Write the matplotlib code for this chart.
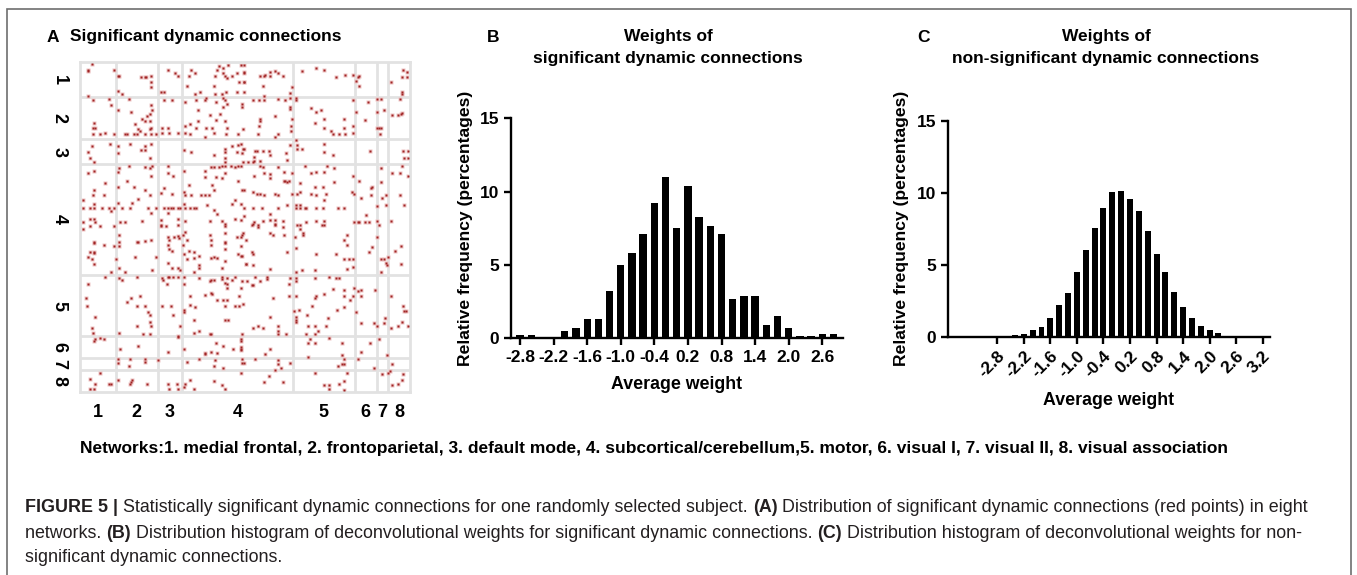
import matplotlib
matplotlib.use("Agg")
import matplotlib.pyplot as plt
from matplotlib.patches import Rectangle

plt.rcParams['font.family'] = ['Liberation Sans', 'DejaVu Sans']

# network boundaries (node index) and labels for the 268-node matrix
net_edges = [0, 29, 63, 83, 173, 223, 241, 250, 268]
net_labels = ['1', '2', '3', '4', '5', '6', '7', '8']

# significant dynamic connections, (column node, row node)
sig_conn = [
    (9, 1), (6, 6), (6, 7), (27, 6), (6, 27), (30, 11), (31, 11), (49, 12), (52, 12), (53, 12),
    (57, 11), (57, 16), (57, 20), (30, 23), (34, 26), (71, 6), (77, 9), (68, 24), (65, 24), (79, 11),
    (90, 6), (93, 9), (112, 3), (111, 6), (116, 5), (116, 9), (109, 11), (117, 11), (119, 13), (120, 2),
    (123, 11), (127, 9), (130, 2), (133, 2), (133, 9), (133, 16), (129, 16), (108, 19), (118, 24), (127, 24),
    (133, 24), (86, 19), (93, 26), (97, 24), (109, 26), (115, 26), (88, 11),
    (10, 31), (23, 30), (25, 35), (11, 49), (10, 53), (12, 53), (10, 58), (16, 58), (20, 57), (27, 58),
    (30, 39), (39, 30), (41, 40), (57, 35), (58, 39), (56, 42), (54, 44), (50, 46), (52, 48), (56, 48),
    (44, 50), (47, 54), (48, 56), (56, 54), (57, 53), (57, 58), (52, 58), (46, 58), (43, 58), (38, 58),
    (36, 58), (61, 58), (68, 31), (74, 31), (66, 53), (71, 53), (72, 57), (79, 57), (66, 57),
    (85, 32), (94, 31), (101, 31), (102, 29), (110, 32), (116, 29), (117, 31), (119, 34), (116, 36), (131, 34),
    (131, 36), (95, 39), (105, 43), (113, 42), (110, 47), (95, 48), (85, 52), (89, 50), (94, 53), (102, 53),
    (107, 53), (117, 48), (119, 53), (118, 58), (85, 57), (89, 58), (108, 57), (101, 61), (132, 54), (128, 58),
    (24, 66), (9, 68), (6, 73), (8, 78), (11, 81), (30, 68), (40, 66), (52, 68), (57, 66), (52, 71),
    (49, 71), (56, 78), (30, 74), (84, 71), (90, 73), (108, 75), (117, 70), (117, 73), (117, 78), (117, 81),
    (123, 68), (128, 67), (130, 66), (132, 70), (127, 73), (131, 74),
    (6, 90), (11, 88), (20, 98), (11, 104), (10, 108), (19, 108), (2, 112), (11, 115), (17, 118), (2, 118),
    (8, 118), (11, 118), (27, 118), (23, 118), (25, 121), (11, 127), (8, 127), (12, 130), (2, 130),
    (31, 86), (39, 84), (30, 89), (38, 96), (52, 85), (56, 86), (58, 84), (57, 92), (30, 101), (43, 101),
    (52, 104), (56, 108), (47, 111), (42, 114), (30, 114), (34, 118), (40, 118), (55, 118), (61, 118), (57, 122),
    (32, 130), (36, 130), (50, 129), (71, 84), (71, 90), (75, 92), (68, 102), (65, 106), (74, 107), (68, 118),
    (71, 118), (73, 118), (75, 118), (79, 118), (81, 118), (71, 122), (65, 128), (79, 127), (79, 132), (65, 132),
    (84, 88), (88, 100), (84, 105), (85, 108), (90, 108), (98, 108), (101, 108), (104, 108), (108, 104), (107, 100),
    (101, 88), (106, 85), (108, 85), (112, 85), (115, 84), (117, 84), (122, 84), (125, 85), (128, 84), (130, 84),
    (132, 81), (117, 90), (110, 93), (115, 94), (128, 96), (101, 93), (84, 115), (85, 118), (89, 118), (92, 118),
    (94, 118), (103, 116), (108, 120), (123, 115), (130, 115), (131, 104), (125, 112), (111, 123), (115, 129), (117, 131),
    (125, 127), (130, 128), (105, 129), (85, 129), (133, 104),
    (133, 8), (133, 16), (146, 11), (149, 11), (150, 10), (154, 8), (154, 11), (158, 7), (160, 9), (164, 11),
    (148, 19), (149, 27), (170, 25), (172, 20), (180, 7), (191, 5), (198, 6), (207, 12), (215, 10), (221, 10),
    (225, 12), (226, 11), (224, 15), (226, 19), (262, 6), (265, 8), (265, 12), (261, 12), (252, 16), (261, 24),
    (261, 26),
    (140, 31), (145, 31), (149, 31), (160, 30), (166, 31), (170, 29), (170, 36), (170, 38), (175, 29), (175, 31),
    (172, 46), (171, 52), (171, 56), (158, 44), (146, 46), (146, 48), (145, 52), (144, 58), (160, 58), (158, 61),
    (187, 37), (191, 40), (195, 39), (190, 49), (198, 46), (198, 53), (203, 56), (205, 58), (210, 58), (214, 46),
    (214, 53), (215, 58), (221, 31), (221, 52), (221, 57), (233, 32), (231, 47), (224, 40), (241, 30), (244, 30),
    (241, 40), (246, 39), (241, 53), (242, 53), (244, 53), (243, 58), (259, 30), (253, 43), (258, 43), (260, 42),
    (261, 41),
    (133, 70), (142, 72), (143, 72), (148, 72), (153, 72), (154, 75), (141, 77), (136, 81), (140, 81), (141, 80),
    (146, 80), (148, 85), (167, 74), (168, 79), (170, 67), (175, 63), (176, 67), (176, 70), (180, 70), (198, 66),
    (198, 73), (205, 75), (235, 72), (262, 72), (266, 72), (263, 78), (266, 78), (261, 84),
    (141, 92), (146, 84), (149, 90), (154, 91), (154, 94), (160, 85), (165, 89), (165, 96), (166, 96), (169, 96),
    (168, 97), (178, 98), (172, 90), (182, 84), (187, 90), (191, 89), (198, 89), (200, 84), (206, 86), (206, 97),
    (190, 101), (197, 101), (221, 92), (226, 96), (237, 101), (236, 102), (244, 97), (244, 86), (253, 90), (259, 90),
    (266, 92), (140, 105), (143, 107), (146, 107), (149, 108), (158, 107), (160, 108), (176, 107), (178, 105), (172, 107),
    (187, 107), (191, 108), (199, 107), (220, 105), (222, 107), (228, 110), (236, 108), (248, 108), (245, 110), (259, 108),
    (133, 118), (140, 118), (147, 118), (160, 118), (168, 116), (175, 116), (178, 116), (178, 118), (175, 118), (182, 118),
    (183, 118), (191, 118), (197, 118), (209, 118), (214, 118), (198, 112), (154, 123), (133, 125), (232, 124), (241, 117),
    (248, 116), (263, 116), (141, 130), (144, 132), (140, 131), (148, 129), (154, 128), (158, 128), (158, 131), (164, 129),
    (176, 132), (183, 130), (191, 129), (198, 129), (198, 132), (222, 130), (225, 130), (226, 130), (231, 130), (234, 130),
    (241, 129), (242, 132), (252, 129),
    (2, 135), (8, 133), (16, 133), (27, 133), (11, 146), (11, 147), (19, 148), (27, 149), (11, 154), (11, 155),
    (8, 154), (6, 158), (9, 160), (11, 164), (25, 170), (31, 140), (31, 146), (31, 149), (46, 146), (47, 146),
    (52, 145), (57, 144), (29, 160), (44, 158), (61, 158), (36, 170), (31, 167), (58, 169),
    (65, 133), (69, 133), (71, 142), (72, 144), (76, 142), (79, 141), (80, 143), (83, 140), (71, 148), (72, 152),
    (74, 153), (83, 148), (71, 163), (74, 167), (79, 167), (81, 169), (85, 138), (86, 144), (84, 156), (86, 160),
    (88, 153), (92, 154), (92, 159), (96, 157), (96, 165), (96, 167), (92, 170), (106, 144), (106, 148), (105, 140),
    (106, 159), (108, 158), (111, 159), (117, 133), (117, 139), (117, 146), (117, 147), (117, 152), (117, 161), (115, 167),
    (127, 142), (130, 142), (131, 140), (132, 139), (130, 157), (131, 157), (128, 156), (134, 164), (130, 149),
    (139, 132), (144, 134), (164, 134), (158, 132), (178, 132), (178, 135), (181, 139), (181, 140), (196, 132), (174, 142),
    (154, 139), (156, 140), (165, 140), (134, 144), (175, 151), (168, 154), (139, 154), (140, 156), (191, 156), (207, 156),
    (214, 144), (216, 148), (216, 140), (214, 160), (218, 160), (221, 160), (221, 166), (216, 168), (190, 169), (180, 169),
    (175, 170), (154, 168), (140, 165), (134, 164), (241, 142), (237, 150), (234, 154), (244, 160), (246, 160), (244, 170),
    (248, 163), (249, 165), (250, 158), (255, 153), (260, 149), (260, 164),
    (20, 174), (6, 180), (4, 191), (5, 198), (12, 207), (9, 216), (10, 220), (31, 175), (34, 177), (41, 191),
    (38, 195), (48, 190), (46, 198), (52, 198), (55, 203), (56, 205), (56, 211), (57, 214), (46, 214), (51, 221),
    (56, 221), (31, 220), (46, 174), (66, 175), (67, 177), (70, 180), (71, 174), (66, 198), (72, 174), (75, 174),
    (79, 174), (84, 174), (84, 180), (75, 205), (84, 201), (84, 203), (81, 214), (79, 222), (73, 198),
    (89, 190), (89, 197), (92, 209), (92, 220), (96, 218), (105, 221), (106, 221), (101, 189), (106, 187), (107, 188),
    (105, 178), (106, 177), (108, 177), (115, 176), (115, 174), (119, 175), (117, 179), (119, 180), (119, 183), (123, 177),
    (125, 174), (131, 178), (130, 183), (111, 193), (116, 193), (119, 193), (117, 198), (125, 198), (129, 198), (132, 196),
    (129, 190), (117, 209), (120, 209), (131, 221), (96, 175), (93, 199),
    (135, 178), (139, 181), (140, 181), (142, 174), (146, 178), (151, 174), (151, 176), (170, 175), (169, 180), (169, 190),
    (175, 175), (175, 178), (175, 190), (190, 175), (191, 190), (190, 191), (198, 188), (202, 174), (207, 175), (210, 175),
    (205, 184), (214, 185), (214, 190), (219, 193), (221, 190), (222, 183), (225, 186), (228, 185), (228, 190), (239, 185),
    (214, 199), (208, 201), (201, 208), (188, 198), (184, 205), (177, 201), (175, 207), (175, 211), (175, 209), (156, 191),
    (154, 207), (160, 214), (160, 218), (160, 221), (167, 221), (144, 214), (140, 216), (148, 216), (173, 202), (185, 214),
    (190, 214), (199, 214), (193, 218), (183, 221), (190, 221), (228, 212), (238, 212), (246, 212), (241, 214), (247, 208),
    (252, 190), (252, 216), (258, 214), (262, 198), (263, 202), (264, 202), (261, 211), (266, 214), (224, 203),
    (11, 226), (12, 225), (16, 224), (19, 225), (32, 233), (47, 230), (71, 235), (79, 223), (84, 233), (101, 236),
    (101, 237), (106, 235), (110, 228), (111, 236), (116, 230), (124, 233), (130, 225), (130, 226), (130, 231), (130, 233),
    (130, 234), (186, 225), (185, 228), (190, 228), (202, 224), (212, 228), (228, 235), (235, 228), (242, 225), (154, 233),
    (150, 237), (249, 238), (212, 238), (185, 239),
    (30, 241), (30, 244), (39, 247), (40, 241), (52, 241), (52, 243), (63, 242), (86, 243), (96, 241), (108, 247),
    (109, 242), (116, 248), (131, 241), (131, 244), (142, 241), (160, 242), (160, 245), (163, 248), (170, 244), (214, 241),
    (214, 245), (209, 247), (212, 245), (225, 241), (238, 248), (253, 245), (158, 250), (133, 244),
    (16, 252), (8, 257), (12, 261), (11, 265), (8, 265), (23, 261), (25, 261), (30, 258), (40, 261), (41, 260),
    (42, 258), (54, 261), (71, 261), (72, 265), (79, 265), (78, 261), (85, 261), (84, 264), (89, 258), (92, 265),
    (108, 259), (115, 262), (117, 265), (130, 252), (153, 255), (149, 260), (164, 260), (190, 252), (198, 262), (202, 262),
    (202, 265), (210, 261), (214, 259), (214, 266), (216, 252), (245, 253), (250, 252), (251, 251), (253, 262), (258, 261),
    (262, 253), (261, 258),
]

# histogram of weights, significant connections (panel B)
sig_bins = [-2.8, -2.6, -2.4, -2.2, -2.0, -1.8, -1.6, -1.4, -1.2, -1.0, -0.8, -0.6, -0.4, -0.2, 0.0,
            0.2, 0.4, 0.6, 0.8, 1.0, 1.2, 1.4, 1.6, 1.8, 2.0, 2.2, 2.4, 2.6, 2.8]
sig_freq = [0.2, 0.2, 0, 0, 0.52, 0.73, 1.32, 1.32, 3.23, 5.0, 5.8, 7.11, 9.2, 10.98, 7.5,
            10.39, 8.3, 7.68, 7.11, 2.68, 2.89, 2.89, 0.91, 1.52, 0.73, 0.18, 0.18, 0.32, 0.32]
sig_ticks = ['-2.8', '-2.2', '-1.6', '-1.0', '-0.4', '0.2', '0.8', '1.4', '2.0', '2.6']

# histogram of weights, non-significant connections (panel C)
nonsig_bins = [-2.4, -2.2, -2.0, -1.8, -1.6, -1.4, -1.2, -1.0, -0.8, -0.6, -0.4, -0.2, 0.0,
               0.2, 0.4, 0.6, 0.8, 1.0, 1.2, 1.4, 1.6, 1.8, 2.0, 2.2, 2.4]
nonsig_freq = [0.12, 0.19, 0.46, 0.69, 1.32, 2.2, 3.06, 4.51, 6.02, 7.52, 8.91, 10.07, 10.14,
               9.56, 8.75, 7.31, 5.74, 4.51, 3.10, 2.08, 1.32, 0.74, 0.46, 0.23, 0.07]
nonsig_ticks = ['-2.8', '-2.2', '-1.6', '-1.0', '-0.4', '0.2', '0.8', '1.4', '2.0', '2.6', '3.2']

W, H = 1357, 575
fig = plt.figure(figsize=(W / 100, H / 100), dpi=100)


def px_axes(x0, y0, x1, y1):
    # axes from pixel box (top-left origin)
    return fig.add_axes([x0 / W, 1 - y1 / H, (x1 - x0) / W, (y1 - y0) / H])


# ---- panel A: connection matrix
ax = px_axes(80, 61.7, 410, 391.7)
grid_c = '#e2e2e2'
for e in net_edges[1:-1]:
    ax.axvline(e, color=grid_c, lw=2, zorder=1)
    ax.axhline(e, color=grid_c, lw=2, zorder=1)
cols = [c + 0.5 for c, r in sig_conn]
rows = [r + 0.5 for c, r in sig_conn]
ax.plot(cols, rows, 's', ms=3.0, color='#eec4c4', mec='none', zorder=2)
ax.plot(cols, rows, 's', ms=1.6, color='#a02424', mec='none', zorder=3)
ax.set_xlim(0, 268)
ax.set_ylim(268, 0)
centers = [(net_edges[i] + net_edges[i + 1]) / 2 for i in range(8)]
ax.set_xticks(centers)
ax.set_xticklabels(net_labels, fontsize=13, fontweight='bold')
ax.set_yticks(centers)
ax.set_yticklabels(net_labels, fontsize=13, fontweight='bold', rotation=-90, va='center')
ax.tick_params(length=0, pad=9)
for s in ax.spines.values():
    s.set_color(grid_c)
    s.set_linewidth(2)

fig.text(47 / W, 1 - 37 / H, 'A', fontsize=12.5, fontweight='bold', va='center')
fig.text(70 / W, 1 - 37 / H, 'Significant dynamic connections', fontsize=12.5,
         fontweight='bold', va='center')


def style_hist(a):
    for side in ['top', 'right']:
        a.spines[side].set_visible(False)
    for side in ['left', 'bottom']:
        a.spines[side].set_linewidth(1.7)
    a.tick_params(width=1.7, length=5, labelsize=12.5)
    a.set_ylim(0, 15)
    a.set_yticks([0, 5, 10, 15])
    a.set_yticklabels(['0', '5', '10', '15'], fontweight='bold')
    a.set_ylabel('Relative frequency (percentages)', fontsize=12.6, fontweight='bold', labelpad=5)
    a.set_xlabel('Average weight', fontsize=12.8, fontweight='bold', labelpad=8)


# ---- panel B
axb = px_axes(511, 118.3, 843, 338.3)
axb.bar(sig_bins, sig_freq, width=0.13, color='black')
axb.set_xlim(-2.96, 2.97)
axb.set_xticks([float(t) for t in sig_ticks])
axb.set_xticklabels(sig_ticks, fontweight='bold')
style_hist(axb)
fig.text(487 / W, 1 - 37 / H, 'B', fontsize=12.5, fontweight='bold', va='center')
fig.text(668 / W, 1 - 37 / H, 'Weights of', fontsize=12.5, fontweight='bold', va='center', ha='center')
fig.text(668 / W, 1 - 59 / H, 'significant dynamic connections', fontsize=12.5,
         fontweight='bold', va='center', ha='center')

# ---- panel C
axc = px_axes(947.7, 120.7, 1270, 336.7)
axc.bar(nonsig_bins, nonsig_freq, width=0.135, color='black')
axc.set_xlim(-3.92, 3.365)
axc.set_xticks([float(t) for t in nonsig_ticks])
axc.set_xticklabels(nonsig_ticks, fontweight='bold', rotation=45, ha='right',
                    rotation_mode='anchor')
style_hist(axc)
fig.text(917 / W, 1 - 37 / H, 'C', fontsize=12.5, fontweight='bold', va='center')
fig.text(1106 / W, 1 - 37 / H, 'Weights of', fontsize=12.5, fontweight='bold', va='center', ha='center')
fig.text(1106 / W, 1 - 59 / H, 'non-significant dynamic connections', fontsize=12.5,
         fontweight='bold', va='center', ha='center')

# network legend line
fig.text(80 / W, 1 - 449 / H,
         'Networks:1. medial frontal, 2. frontoparietal, 3. default mode, 4. subcortical/cerebellum,'
         '5. motor, 6. visual I, 7. visual II, 8. visual association',
         fontsize=12.5, fontweight='bold', va='center')

# figure frame
fig.patches.append(Rectangle((7 / W, -0.05), (1351 - 7) / W, 1.05 - 9 / H, fill=False,
                             ec='#6e6e6e', lw=1.2, transform=fig.transFigure))

# caption with bold parts
renderer = fig.canvas.get_renderer()


def rich_line(x, y, parts, size=12.9):
    for s, w in parts:
        t = fig.text(x / W, 1 - y / H, s, fontsize=size, fontweight=w, va='center',
                     color='#231f20')
        x += t.get_window_extent(renderer=renderer).width


rich_line(25, 507, [('FIGURE 5 | ', 'bold'),
                    ('Statistically significant dynamic connections for one randomly selected subject. ', 'normal'),
                    ('(A)', 'bold'),
                    (' Distribution of significant dynamic connections (red points) in eight', 'normal')])
rich_line(25, 533, [('networks. ', 'normal'), ('(B)', 'bold'),
                    (' Distribution histogram of deconvolutional weights for significant dynamic connections. ', 'normal'),
                    ('(C)', 'bold'),
                    (' Distribution histogram of deconvolutional weights for non-', 'normal')])
rich_line(25, 558, [('significant dynamic connections.', 'normal')])

fig.savefig('out.png', dpi=100)
